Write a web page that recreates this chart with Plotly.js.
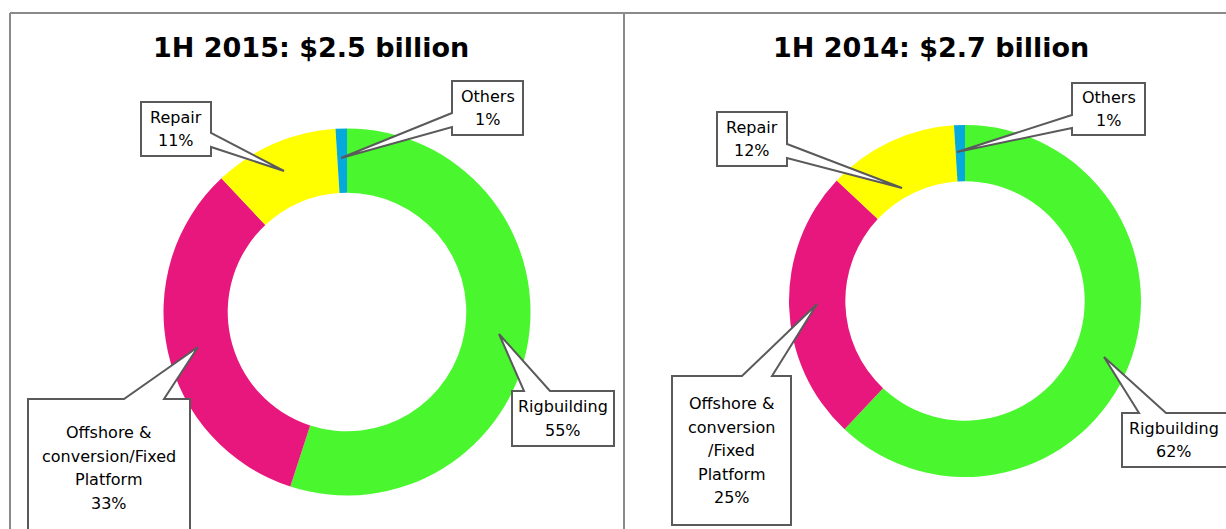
<!DOCTYPE html>
<html>
<head>
<meta charset="utf-8">
<script src="https://cdn.plot.ly/plotly-3.0.1.min.js"></script>
<style>
  html, body { margin: 0; padding: 0; background: #ffffff; }
  #chart { width: 1226px; height: 529px; }
</style>
</head>
<body>
<div id="chart"></div>
<script>
// ---------------- DATA ----------------
const categories = ['Rigbuilding', 'Offshore & conversion/Fixed Platform', 'Repair', 'Others'];
const share2015 = [55, 33, 11, 1];
const share2014 = [62, 25, 12, 1];
const labelLines2015 = [['Rigbuilding'], ['Offshore &', 'conversion/Fixed', 'Platform'], ['Repair'], ['Others']];
const labelLines2014 = [['Rigbuilding'], ['Offshore &', 'conversion', '/Fixed', 'Platform'], ['Repair'], ['Others']];
const panelTitles = ['1H 2015: $2.5 billion', '1H 2014: $2.7 billion'];
const sliceColors = ['#4af72f', '#e8177d', '#ffff00', '#05a9dc'];

// ---------------- LAYOUT HELPERS ----------------
const W = 1226, H = 529;
const px = x => x / W;
const py = y => 1 - y / H;

// geometry of each panel (pixels)
const panels = [
  {
    values: share2015, lines: labelLines2015, title: panelTitles[0],
    cx: 347, cy: 312, r: 183.5, hole: 0.65, titleX: 311, titleY: 48,
    callouts: [
      { box: [512, 391, 614, 446], side: 'top',   base: [524, 550], tip: [499, 334] },
      { box: [28, 399, 190, 537],  side: 'top',   base: [124, 164], tip: [198, 347] },
      { box: [141, 102, 211, 156], side: 'right', base: [133, 147], tip: [284, 171] },
      { box: [452, 81, 523, 135],  side: 'left',  base: [113, 127], tip: [341, 158] }
    ]
  },
  {
    values: share2014, lines: labelLines2014, title: panelTitles[1],
    cx: 965, cy: 301, r: 176, hole: 0.68, titleX: 931, titleY: 48,
    callouts: [
      { box: [1122, 413, 1226, 467], side: 'top',   base: [1139, 1166], tip: [1104, 357], openRight: true },
      { box: [672, 376, 791, 525],   side: 'top',   base: [742, 772],   tip: [817, 304] },
      { box: [717, 112, 787, 166],   side: 'right', base: [144, 158],   tip: [902, 188] },
      { box: [1072, 83, 1145, 135],  side: 'left',  base: [115, 128],   tip: [957, 152] }
    ]
  }
];

function pt(x, y) { return px(x).toFixed(5) + ',' + py(y).toFixed(5); }

function calloutPath(c) {
  const [x0, y0, x1raw, y1] = c.box;
  const x1 = c.openRight ? x1raw + 6 : x1raw;
  const [tx, ty] = c.tip;
  const [b1, b2] = c.base;
  let p;
  if (c.side === 'left') {
    p = ['M' + pt(x0, y0), 'L' + pt(x1, y0), 'L' + pt(x1, y1), 'L' + pt(x0, y1),
         'L' + pt(x0, b2), 'L' + pt(tx, ty), 'L' + pt(x0, b1), 'Z'];
  } else if (c.side === 'right') {
    p = ['M' + pt(x0, y0), 'L' + pt(x1, y0), 'L' + pt(x1, b1), 'L' + pt(tx, ty),
         'L' + pt(x1, b2), 'L' + pt(x1, y1), 'L' + pt(x0, y1), 'Z'];
  } else {
    p = ['M' + pt(x0, y0), 'L' + pt(b1, y0), 'L' + pt(tx, ty), 'L' + pt(b2, y0),
         'L' + pt(x1, y0), 'L' + pt(x1, y1), 'L' + pt(x0, y1), 'Z'];
  }
  return p.join(' ');
}

const traces = [];
const shapes = [];
const annotations = [];
const lineGap = 23.5;

panels.forEach(pn => {
  traces.push({
    type: 'pie',
    labels: categories,
    values: pn.values,
    sort: false,
    direction: 'clockwise',
    rotation: 0,
    hole: pn.hole,
    textinfo: 'none',
    hoverinfo: 'skip',
    showlegend: false,
    marker: { colors: sliceColors, line: { width: 0 } },
    domain: {
      x: [px(pn.cx - pn.r), px(pn.cx + pn.r)],
      y: [py(pn.cy + pn.r), py(pn.cy - pn.r)]
    }
  });

  annotations.push({
    xref: 'paper', yref: 'paper', x: px(pn.titleX), y: py(pn.titleY),
    xanchor: 'center', yanchor: 'middle', showarrow: false,
    text: '<b>' + pn.title + '</b>',
    font: { family: 'DejaVu Sans, Arial, sans-serif', size: 27, color: '#000000' }
  });

  pn.callouts.forEach((c, i) => {
    shapes.push({
      type: 'path', xref: 'paper', yref: 'paper',
      path: calloutPath(c),
      fillcolor: '#ffffff',
      line: { color: '#5a5a5a', width: 2 },
      layer: 'above'
    });
    const lines = pn.lines[i].concat([pn.values[i] + '%']);
    const cxText = (c.box[0] + c.box[2]) / 2;
    const cyBox = (c.box[1] + c.box[3]) / 2;
    const start = cyBox - (lines.length - 1) * lineGap / 2;
    lines.forEach((t, k) => {
      annotations.push({
        xref: 'paper', yref: 'paper', x: px(cxText), y: py(start + k * lineGap),
        xanchor: 'center', yanchor: 'middle', showarrow: false,
        text: t,
        font: { family: 'DejaVu Sans, sans-serif', size: 16, color: '#000000' }
      });
    });
  });
});

// panel frame lines
const frameColor = '#8a8a8a';
shapes.unshift(
  { type: 'line', xref: 'paper', yref: 'paper', x0: px(10), x1: px(1226), y0: py(13), y1: py(13), line: { color: frameColor, width: 2 } },
  { type: 'line', xref: 'paper', yref: 'paper', x0: px(10), x1: px(10), y0: py(13), y1: py(529), line: { color: frameColor, width: 2 } },
  { type: 'line', xref: 'paper', yref: 'paper', x0: px(624), x1: px(624), y0: py(13), y1: py(529), line: { color: frameColor, width: 2 } }
);

const layout = {
  width: W, height: H,
  margin: { l: 0, r: 0, t: 0, b: 0 },
  paper_bgcolor: '#ffffff',
  plot_bgcolor: '#ffffff',
  showlegend: false,
  shapes: shapes,
  annotations: annotations
};

Plotly.newPlot('chart', traces, layout, { staticPlot: true, displayModeBar: false });
</script>
</body>
</html>
